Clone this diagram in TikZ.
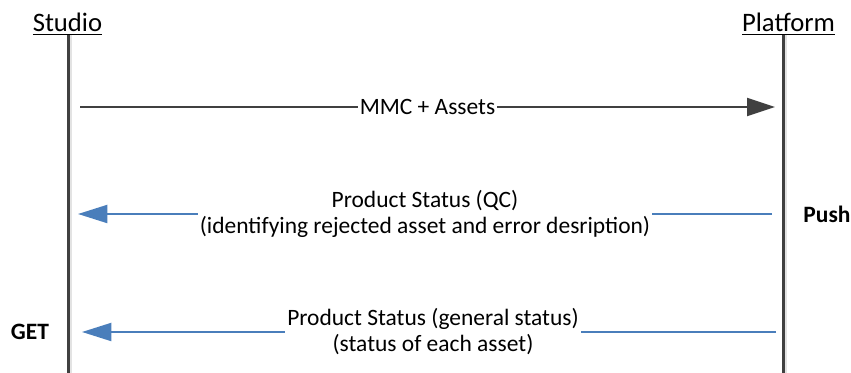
\documentclass[tikz,border=0pt]{standalone}
\usepackage{fontspec}
\setmainfont{Carlito}
\usetikzlibrary{arrows.meta,positioning}
\definecolor{lifegray}{HTML}{404040}
\definecolor{shadegray}{HTML}{E3E3E3}
\definecolor{msgblue}{HTML}{4A7EBB}

\begin{document}
\begin{tikzpicture}[x=0.75pt, y=-0.75pt]
		\tikzstyle{every node}=[font=\fontsize{17.6}{19.5}\selectfont]
		\tikzstyle{head}=[font=\fontsize{20}{22}\selectfont, inner sep=0pt]
		\tikzstyle{life}=[line width=2.25pt, lifegray]
		\tikzstyle{shade}=[line width=1.5pt, shadegray]
		\tikzstyle{call}=[line width=1.5pt, lifegray, -{Triangle[length=21pt, width=13.5pt]}]
		\tikzstyle{reply}=[line width=1.5pt, msgblue, -{Triangle[length=22pt, width=13.5pt]}]
		\tikzstyle{lbl}=[fill=white, text=black, align=center, inner xsep=1.5pt, inner ysep=1pt]
		\tikzstyle{kind}=[font=\fontsize{17.6}{19.5}\selectfont\bfseries, inner sep=0pt]
		\useasboundingbox (0,0) rectangle (851,373);
		% lifelines
		\node [head, anchor=base] (studio) at (67.5,32) {\underline{Studio}};
		\node [head, anchor=base] (platform) at (788.5,32) {\underline{Platform}};
		\coordinate (studio top) at (68,35);
		\coordinate (studio end) at (68,373);
		\coordinate (platform top) at (783,35);
		\coordinate (platform end) at (783,373);
		\draw [shade] ([xshift=2.2]studio top) -- ([xshift=2.2]studio end);
		\draw [shade] ([xshift=2.2]platform top) -- ([xshift=2.2]platform end);
		\draw [life] (studio top) -- (studio end);
		\draw [life] (platform top) -- (platform end);
		% messages
		\coordinate (assets from) at (80,107);
		\coordinate (assets to) at (775,107);
		\draw [call] (assets from) -- node [lbl] (assets) {MMC + Assets} (assets to);
		\coordinate (qc from) at (772,214);
		\coordinate (qc to) at (78,214);
		\draw [reply] (qc from) -- node [lbl] (qc) {Product Status (QC)\\(identifying rejected asset and error desription)} (qc to);
		\coordinate (gen from) at (776,332);
		\coordinate (gen to) at (82,332);
		\draw [reply] (gen from) -- node [lbl, xshift=3] (gen) {Product Status (general status)\\(status of each asset)} (gen to);
		% push / get
		\node [kind] (push) at (827,214) {Push};
		\node [kind] (get) at (30,332) {GET};
	\end{tikzpicture}
\end{document}
